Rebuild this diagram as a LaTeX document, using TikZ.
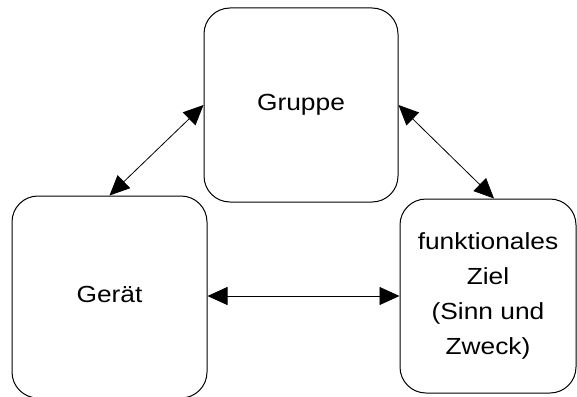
\documentclass[tikz,border=0pt]{standalone}
\usepackage{fontspec}
\setmainfont{Liberation Sans}[FakeStretch=1.13]
\usetikzlibrary{arrows.meta}
\begin{document}
\begin{tikzpicture}[x=1pt,y=-1pt,
  box/.style={draw, line width=1pt, rounded corners=26pt, inner sep=0pt, align=center,
    font=\fontsize{23.3}{35.3}\selectfont},
  oneline/.style={text height=16.7pt, text depth=4.9pt},
  link/.style={line width=0.8pt, {Triangle[length=20pt,width=18pt]}-{Triangle[length=20pt,width=18pt]}}]
\useasboundingbox (0,0) rectangle (577,396);
\node[box, oneline, minimum width=194pt, minimum height=194pt] (grp) at (301,105) {Gruppe};
\node[box, oneline, minimum width=195pt, minimum height=202pt] (ger) at (109.5,297) {Gerät};
\node[box, minimum width=176pt, minimum height=194pt] (zie) at (488,296) {funktionales\\Ziel\\(Sinn und\\Zweck)};
\draw[link] (grp.west) -- (ger.north);
\draw[link] (grp.east) -- ([xshift=6pt]zie.north);
\draw[link] (ger.east |- zie.west) -- (zie.west);
\end{tikzpicture}
\end{document}
